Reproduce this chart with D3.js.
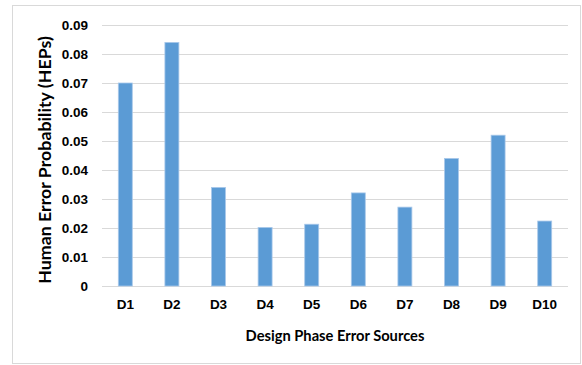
<!DOCTYPE html>
<html lang="en">
<head>
    <meta charset="UTF-8">
    <title>Human Error Probability by Design Phase Error Source</title>
    <script src="https://d3js.org/d3.v7.min.js"></script>
    <style>
        body { margin: 0; background: #fff; }
        svg { display: block; font-family: Lato, "Open Sans", sans-serif; }
    </style>
</head>
<body>
<svg></svg>
<script>
    const sources = ["D1", "D2", "D3", "D4", "D5", "D6", "D7", "D8", "D9", "D10"];
    const heps = [0.070, 0.084, 0.034, 0.0202, 0.0213, 0.0321, 0.0272, 0.044, 0.052, 0.0224];
    const yTicks = [0, 0.01, 0.02, 0.03, 0.04, 0.05, 0.06, 0.07, 0.08, 0.09];

    const width = 582, height = 365;
    const margins = {top: 25, right: 14, bottom: 78, left: 102};
    const plotW = 568 - margins.left;
    const plotH = 286 - margins.top;

    const svg = d3.select("svg").attr("width", width).attr("height", height);

    // outer chart frame
    svg.append("rect")
        .attr("x", 12.5).attr("y", 5.5)
        .attr("width", 568).attr("height", 358)
        .attr("fill", "none").attr("stroke", "#d9d9d9");

    const g = svg.append("g").attr("transform", "translate(" + margins.left + "," + margins.top + ")");

    const y = d3.scaleLinear().domain([0, 0.09]).range([plotH, 0]);
    const x = d3.scaleBand().domain(sources).range([0, plotW]).paddingInner(0.7).paddingOuter(0.35);

    // gridlines
    g.append("g")
        .selectAll("line")
        .data(yTicks)
        .enter().append("line")
        .attr("x1", 0).attr("x2", plotW)
        .attr("y1", function(d) { return Math.round(y(d)) + 0.5; })
        .attr("y2", function(d) { return Math.round(y(d)) + 0.5; })
        .attr("stroke", "#d9d9d9").attr("stroke-width", 1.2);

    // y axis labels
    const yAxis = g.append("g")
        .call(d3.axisLeft(y).tickValues(yTicks).tickSize(0).tickPadding(14)
            .tickFormat(function(d) { return d === 0 ? "0" : d3.format(".2f")(d); }));
    yAxis.select(".domain").remove();
    yAxis.selectAll("text").attr("font-size", 13.5).attr("font-weight", 700).attr("fill", "#000");

    // x axis labels
    const xAxis = g.append("g").attr("transform", "translate(0," + plotH + ")")
        .call(d3.axisBottom(x).tickSize(0).tickPadding(13));
    xAxis.select(".domain").remove();
    xAxis.selectAll("text").attr("font-size", 13.5).attr("font-weight", 700).attr("fill", "#000");

    // bars
    g.selectAll("rect.bar")
        .data(heps)
        .enter().append("rect")
        .attr("class", "bar")
        .attr("x", function(d, i) { return x(sources[i]); })
        .attr("y", function(d) { return y(d); })
        .attr("width", x.bandwidth())
        .attr("height", function(d) { return plotH - y(d); })
        .attr("fill", "#5b9bd5")
        .attr("stroke", "#a9c8ea").attr("stroke-width", 0.8);

    // axis titles
    svg.append("text")
        .attr("x", 335).attr("y", 341)
        .attr("text-anchor", "middle")
        .attr("font-size", 14.7).attr("font-weight", 700).attr("fill", "#000")
        .text("Design Phase Error Sources");

    svg.append("text")
        .attr("transform", "translate(51,160) rotate(-90)")
        .attr("text-anchor", "middle")
        .attr("font-size", 17.8).attr("font-weight", 700).attr("fill", "#000")
        .text("Human Error Probability (HEPs)");
</script>
</body>
</html>
